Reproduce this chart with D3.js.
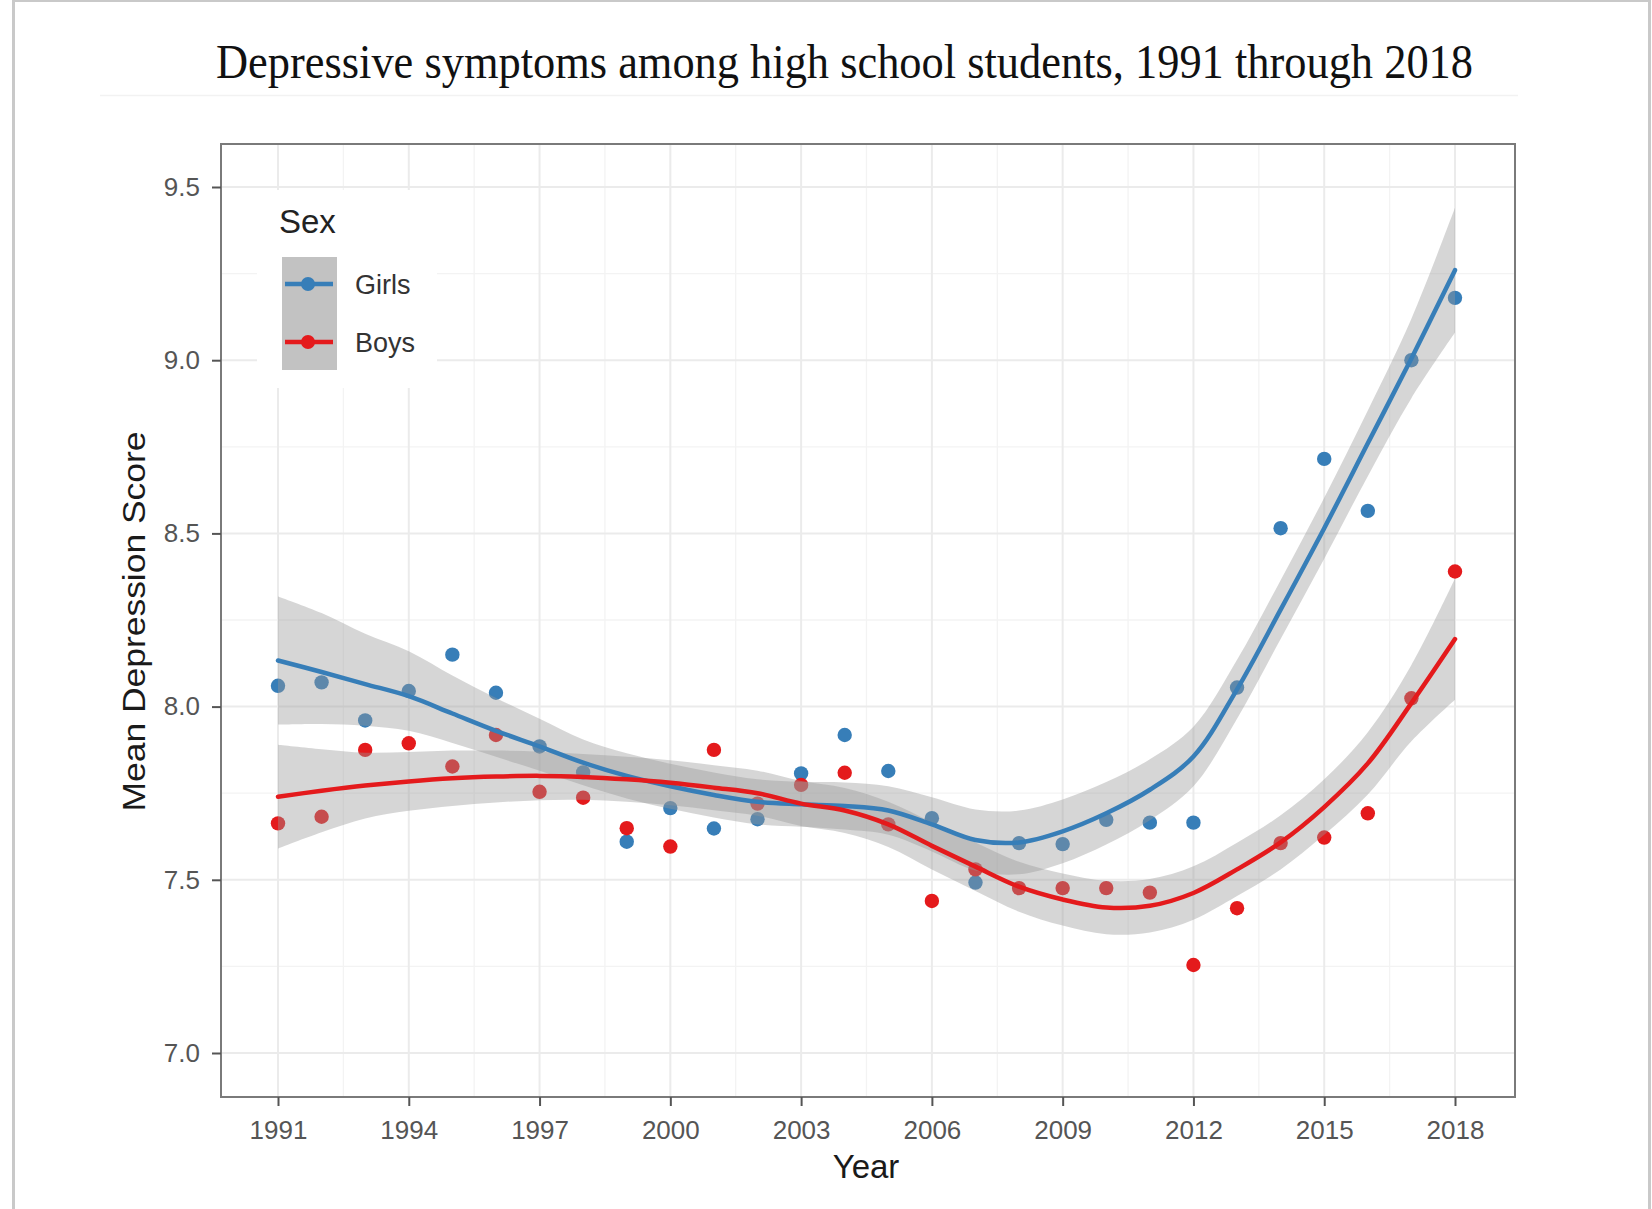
<!DOCTYPE html>
<html>
<head>
<meta charset="utf-8">
<script src="https://cdn.jsdelivr.net/npm/d3@7"></script>
<style>
  html, body { margin: 0; padding: 0; background: #fff; }
  svg { display: block; }
</style>
</head>
<body>
<svg id="chart" width="1652" height="1209"></svg>
<script>
// ---------------- DATA ----------------
const years = [1991,1992,1993,1994,1995,1996,1997,1998,1999,2000,2001,2002,2003,2004,
               2005,2006,2007,2008,2009,2010,2011,2012,2013,2014,2015,2016,2017,2018];

const girlsScore = [8.06,8.07,7.96,8.045,8.15,8.04,7.885,7.81,7.61,7.707,7.648,7.675,7.807,7.918,
                    7.814,7.678,7.492,7.606,7.603,7.673,7.665,7.665,8.055,8.515,8.715,8.565,9.00,9.18];
const boysScore  = [7.663,7.682,7.875,7.894,7.827,7.918,7.754,7.737,7.649,7.596,7.875,7.72,7.774,7.809,
                    7.66,7.439,7.53,7.476,7.476,7.476,7.463,7.254,7.418,7.606,7.622,7.692,8.024,8.39];

// smoothed trend (loess) and its confidence band
const girlsFit   = [8.133,8.100,8.065,8.030,7.980,7.930,7.885,7.838,7.800,7.770,7.745,7.725,7.718,7.713,
                    7.700,7.660,7.615,7.608,7.640,7.692,7.760,7.856,8.050,8.280,8.515,8.760,9.005,9.260];
const girlsUpper = [8.318,8.270,8.210,8.160,8.090,8.025,7.965,7.905,7.865,7.835,7.810,7.790,7.783,7.781,
                    7.770,7.738,7.703,7.700,7.732,7.782,7.848,7.942,8.135,8.365,8.603,8.855,9.120,9.440];
const girlsLower = [7.948,7.950,7.945,7.930,7.895,7.855,7.815,7.773,7.735,7.705,7.680,7.660,7.653,7.645,
                    7.630,7.582,7.527,7.516,7.548,7.602,7.672,7.770,7.965,8.195,8.427,8.665,8.890,9.080];

const boysFit    = [7.740,7.757,7.772,7.784,7.793,7.798,7.800,7.797,7.790,7.780,7.766,7.750,7.720,7.700,
                    7.660,7.598,7.538,7.480,7.443,7.420,7.425,7.462,7.530,7.608,7.710,7.836,8.010,8.195];
const boysUpper  = [7.890,7.877,7.867,7.869,7.873,7.873,7.870,7.863,7.855,7.845,7.831,7.815,7.785,7.765,
                    7.725,7.666,7.608,7.552,7.518,7.497,7.502,7.539,7.607,7.686,7.790,7.926,8.120,8.370];
const boysLower  = [7.590,7.637,7.677,7.699,7.713,7.723,7.730,7.731,7.725,7.715,7.701,7.685,7.655,7.635,
                    7.595,7.530,7.468,7.408,7.368,7.343,7.348,7.385,7.453,7.530,7.630,7.746,7.900,8.020];

const xTicks = [1991,1994,1997,2000,2003,2006,2009,2012,2015,2018];
const xMinor = [1992.5,1995.5,1998.5,2001.5,2004.5,2007.5,2010.5,2013.5,2016.5];
const yTicks = [7.0,7.5,8.0,8.5,9.0,9.5];
const yMinor = [7.25,7.75,8.25,8.75,9.25];

const seriesNames = ["Girls","Boys"];
const seriesColors = ["#377eb8","#e41a1c"];

const titleText = "Depressive symptoms among high school students, 1991 through 2018";
const xTitle = "Year";
const yTitle = "Mean Depression Score";
const legendTitle = "Sex";

// ---------------- LAYOUT ----------------
const svg = d3.select("#chart");
const panel = {left: 221, right: 1515, top: 144, bottom: 1097};

const x = d3.scaleLinear().domain([1991, 2018]).range([278, 1455]);
const y = d3.scaleLinear().domain([7.0, 9.5]).range([1053, 187]);

// outer document frame
svg.append("line").attr("x1",13.5).attr("x2",13.5).attr("y1",0).attr("y2",1209)
   .attr("stroke","#c9c9c9").attr("stroke-width",3);
svg.append("line").attr("x1",1649.5).attr("x2",1649.5).attr("y1",0).attr("y2",1209)
   .attr("stroke","#c9c9c9").attr("stroke-width",3);
svg.append("line").attr("x1",12).attr("x2",1651).attr("y1",1).attr("y2",1)
   .attr("stroke","#c9c9c9").attr("stroke-width",2);
// faint edge of the pasted plot image
svg.append("line").attr("x1",100).attr("x2",1518).attr("y1",95.5).attr("y2",95.5)
   .attr("stroke","#f2f2f2").attr("stroke-width",1.5);

// title
svg.append("text")
  .attr("x", 844.5).attr("y", 78)
  .attr("text-anchor","middle")
  .attr("font-family","'Liberation Serif','Times New Roman',serif")
  .attr("font-size", 48)
  .attr("fill","#111")
  .attr("textLength", 1257)
  .attr("lengthAdjust","spacingAndGlyphs")
  .text(titleText);

// panel background
svg.append("rect")
  .attr("x", panel.left).attr("y", panel.top)
  .attr("width", panel.right - panel.left).attr("height", panel.bottom - panel.top)
  .attr("fill","#fff");

const grid = svg.append("g");
// minor grid
grid.selectAll(".vmin").data(xMinor).enter().append("line")
  .attr("x1", d => x(d)).attr("x2", d => x(d))
  .attr("y1", panel.top).attr("y2", panel.bottom)
  .attr("stroke","#f3f3f3").attr("stroke-width",1.3);
grid.selectAll(".hmin").data(yMinor).enter().append("line")
  .attr("y1", d => y(d)).attr("y2", d => y(d))
  .attr("x1", panel.left).attr("x2", panel.right)
  .attr("stroke","#f3f3f3").attr("stroke-width",1.3);
// major grid
grid.selectAll(".vmaj").data(xTicks).enter().append("line")
  .attr("x1", d => x(d)).attr("x2", d => x(d))
  .attr("y1", panel.top).attr("y2", panel.bottom)
  .attr("stroke","#ebebeb").attr("stroke-width",2);
grid.selectAll(".hmaj").data(yTicks).enter().append("line")
  .attr("y1", d => y(d)).attr("y2", d => y(d))
  .attr("x1", panel.left).attr("x2", panel.right)
  .attr("stroke","#ebebeb").attr("stroke-width",2);

// ---------------- MARKS ----------------
const series = [
  {name: seriesNames[0], color: seriesColors[0], pts: girlsScore, fit: girlsFit, lo: girlsLower, hi: girlsUpper},
  {name: seriesNames[1], color: seriesColors[1], pts: boysScore,  fit: boysFit,  lo: boysLower,  hi: boysUpper}
];

const plot = svg.append("g");

// points (drawn first, smooth layer goes over them as in ggplot)
series.forEach(s => {
  plot.append("g").selectAll("circle")
    .data(years.map((yr, i) => ({yr, v: s.pts[i]})))
    .enter().append("circle")
    .attr("cx", d => x(d.yr)).attr("cy", d => y(d.v))
    .attr("r", 7.2)
    .attr("fill", s.color);
});

const curve = d3.curveCatmullRom.alpha(0.5);
const area = d3.area().curve(curve)
  .x(d => x(d.yr)).y0(d => y(d.lo)).y1(d => y(d.hi));
const line = d3.line().curve(curve)
  .x(d => x(d.yr)).y(d => y(d.v));

series.forEach(s => {
  const bandData = years.map((yr, i) => ({yr, lo: s.lo[i], hi: s.hi[i]}));
  plot.append("path").datum(bandData)
    .attr("d", area)
    .attr("fill", "#999999").attr("fill-opacity", 0.4);
});
series.forEach(s => {
  const fitData = years.map((yr, i) => ({yr, v: s.fit[i]}));
  plot.append("path").datum(fitData)
    .attr("d", line)
    .attr("fill","none").attr("stroke", s.color).attr("stroke-width", 4.5)
    .attr("stroke-linecap","round");
});

// panel border
svg.append("rect")
  .attr("x", panel.left).attr("y", panel.top)
  .attr("width", panel.right - panel.left).attr("height", panel.bottom - panel.top)
  .attr("fill","none").attr("stroke","#7a7a7a").attr("stroke-width",2);

// ---------------- AXES ----------------
const fontSans = "'Liberation Sans', Arial, Helvetica, sans-serif";

const xAxis = svg.append("g").attr("transform", `translate(0,${panel.bottom})`)
  .call(d3.axisBottom(x).tickValues(xTicks).tickFormat(d3.format("d")).tickSize(9).tickPadding(15));
const yAxis = svg.append("g").attr("transform", `translate(${panel.left},0)`)
  .call(d3.axisLeft(y).tickValues(yTicks).tickFormat(d3.format(".1f")).tickSize(9).tickPadding(12));

[xAxis, yAxis].forEach(a => {
  a.select(".domain").remove();
  a.selectAll(".tick line").attr("stroke","#555").attr("stroke-width",2);
  a.selectAll(".tick text")
    .attr("font-family", fontSans).attr("font-size", 26).attr("fill","#555");
});

svg.append("text")
  .attr("x", 866).attr("y", 1178)
  .attr("text-anchor","middle")
  .attr("font-family", fontSans).attr("font-size", 33).attr("fill","#1a1a1a")
  .text(xTitle);

svg.append("text")
  .attr("transform","translate(145,621.5) rotate(-90)")
  .attr("text-anchor","middle")
  .attr("font-family", fontSans).attr("font-size", 32).attr("fill","#1a1a1a")
  .attr("textLength", 380).attr("lengthAdjust","spacingAndGlyphs")
  .text(yTitle);

// ---------------- LEGEND ----------------
const lg = svg.append("g");
lg.append("rect").attr("x",257).attr("y",190).attr("width",180).attr("height",198).attr("fill","#fff");
lg.append("text").attr("x",279).attr("y",233)
  .attr("font-family", fontSans).attr("font-size", 33).attr("fill","#222")
  .text(legendTitle);
const keyY = [284, 342];
lg.append("rect").attr("x",282).attr("y",257).attr("width",55).attr("height",113).attr("fill","#c2c2c2");
series.forEach((s, i) => {
  lg.append("line").attr("x1",285).attr("x2",333).attr("y1",keyY[i]).attr("y2",keyY[i])
    .attr("stroke", s.color).attr("stroke-width",4.5);
  lg.append("circle").attr("cx",308).attr("cy",keyY[i]).attr("r",7).attr("fill", s.color);
  lg.append("text").attr("x",355).attr("y",keyY[i]+10)
    .attr("font-family", fontSans).attr("font-size", 27).attr("fill","#333")
    .text(s.name);
});
</script>
</body>
</html>
